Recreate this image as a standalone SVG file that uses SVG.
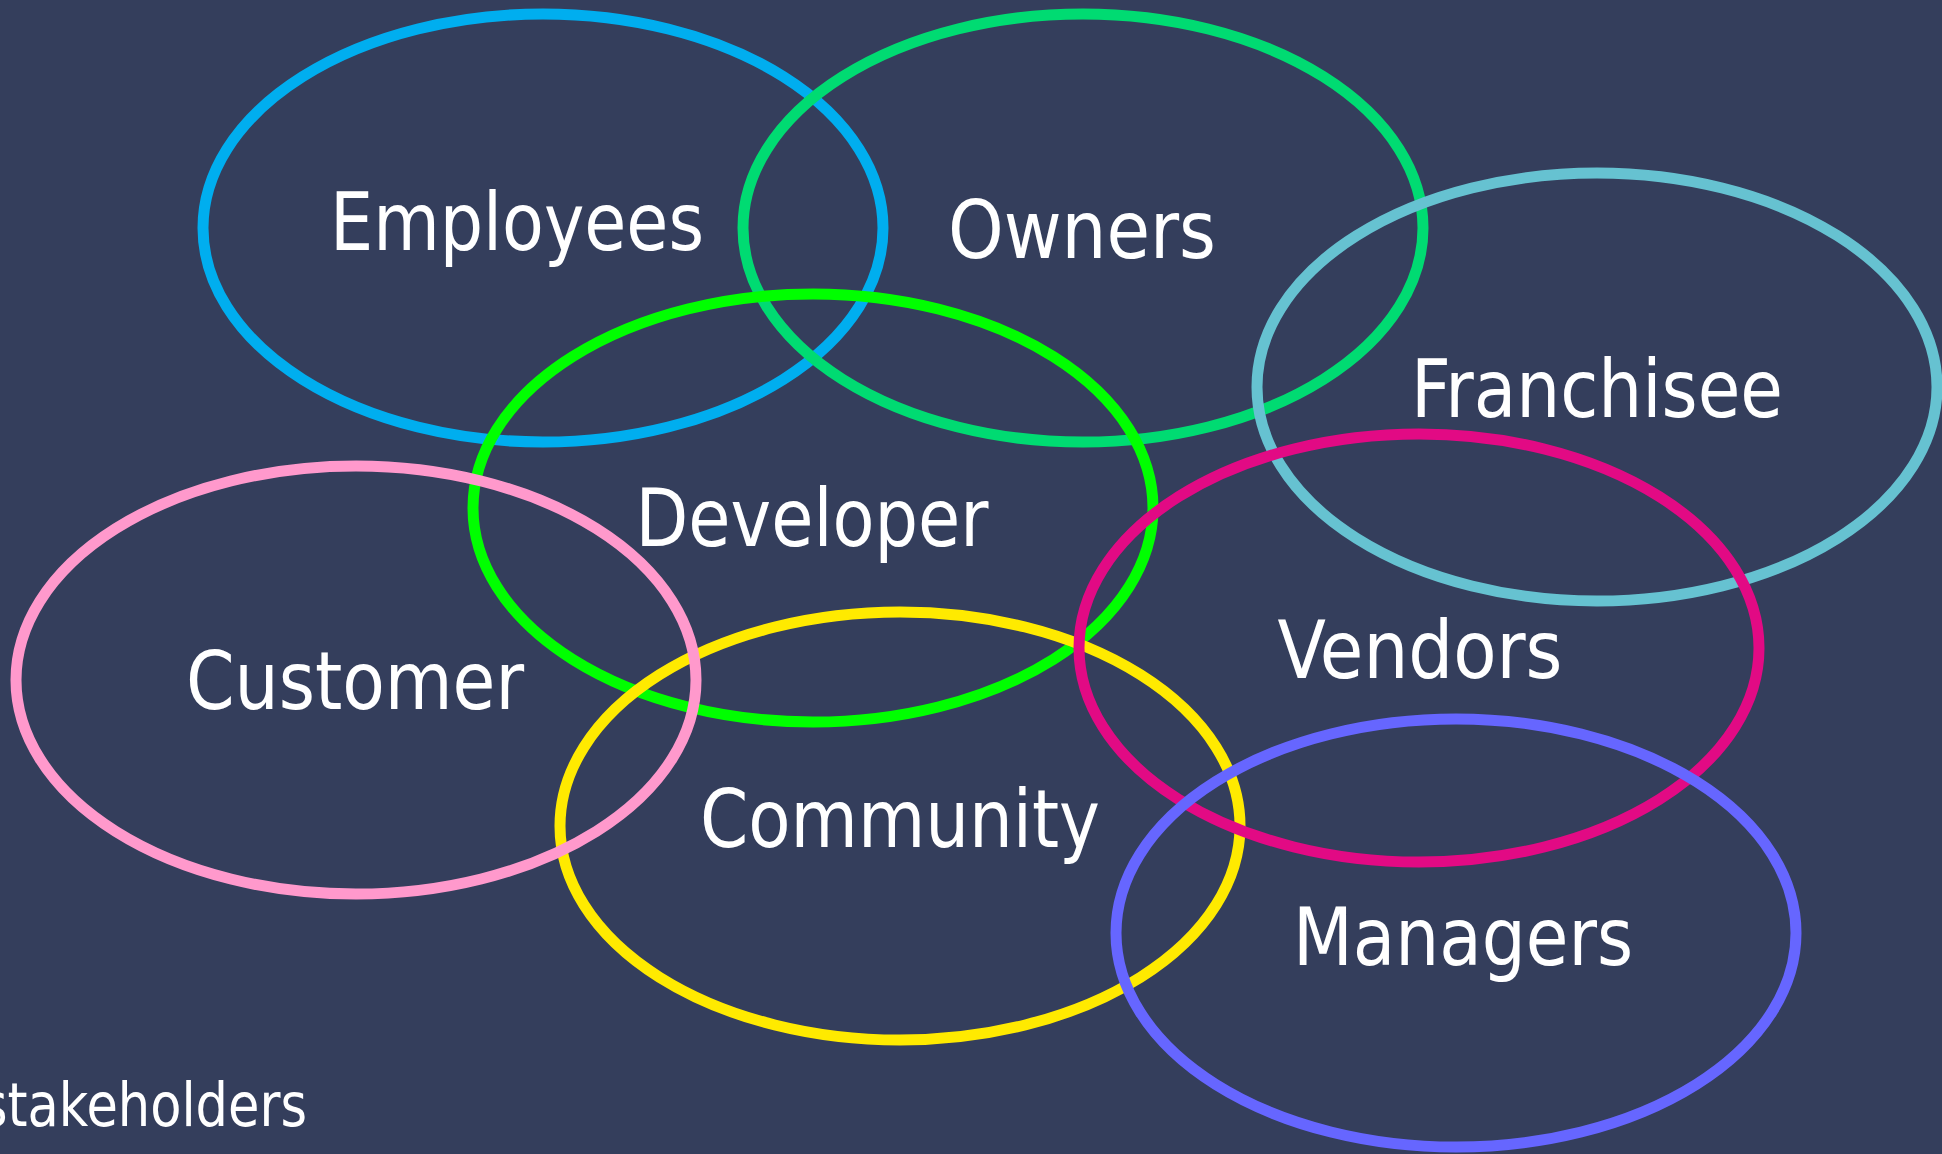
<svg xmlns="http://www.w3.org/2000/svg" width="1942" height="1154" viewBox="0 0 1942 1154">
  <style>
    .ring { fill: none; stroke-width: 11; }
    .lbl { fill: #ffffff; font-family: "DejaVu Sans Condensed", "DejaVu Sans", "Liberation Sans", sans-serif; font-stretch: condensed; font-size: 80px; text-anchor: middle; }
    .cap { fill: #ffffff; font-family: "DejaVu Sans Condensed", "DejaVu Sans", "Liberation Sans", sans-serif; font-stretch: condensed; font-size: 60px; }
  </style>
  <rect x="0" y="0" width="1942" height="1154" fill="#343E5C"/>
  <g id="connectors"></g>
  <g id="employees">
    <ellipse class="ring" cx="543" cy="228" rx="340" ry="214" stroke="#00AEEF"/>
    <text class="lbl" x="517" y="250" textLength="374" lengthAdjust="spacingAndGlyphs">Employees</text>
  </g>
  <g id="owners">
    <ellipse class="ring" cx="1083" cy="228" rx="340" ry="214" stroke="#00DB72"/>
    <text class="lbl" x="1082" y="258" textLength="268" lengthAdjust="spacingAndGlyphs">Owners</text>
  </g>
  <g id="developer">
    <ellipse class="ring" cx="813" cy="508" rx="340" ry="214" stroke="#00FF00"/>
    <text class="lbl" x="812" y="546" textLength="353" lengthAdjust="spacingAndGlyphs">Developer</text>
  </g>
  <g id="franchisee">
    <ellipse class="ring" cx="1597" cy="387" rx="340" ry="214" stroke="#66C2D1"/>
    <text class="lbl" x="1597" y="417" textLength="372" lengthAdjust="spacingAndGlyphs">Franchisee</text>
  </g>
  <g id="community">
    <ellipse class="ring" cx="900" cy="826" rx="340" ry="214" stroke="#FFEA00"/>
    <text class="lbl" x="900" y="847" textLength="400" lengthAdjust="spacingAndGlyphs">Community</text>
  </g>
  <g id="customer">
    <ellipse class="ring" cx="356" cy="680" rx="340" ry="214" stroke="#FF99CC"/>
    <text class="lbl" x="355" y="709" textLength="338" lengthAdjust="spacingAndGlyphs">Customer</text>
  </g>
  <g id="vendors">
    <ellipse class="ring" cx="1419" cy="648" rx="340" ry="214" stroke="#E20A84"/>
    <text class="lbl" x="1420" y="678" textLength="285" lengthAdjust="spacingAndGlyphs">Vendors</text>
  </g>
  <g id="managers">
    <ellipse class="ring" cx="1456" cy="933" rx="340" ry="214" stroke="#6666FF"/>
    <text class="lbl" x="1463" y="965" textLength="340" lengthAdjust="spacingAndGlyphs">Managers</text>
  </g>
  <g id="caption">
    <text class="cap" x="-19" y="1126" textLength="326" lengthAdjust="spacingAndGlyphs">stakeholders</text>
  </g>
</svg>
